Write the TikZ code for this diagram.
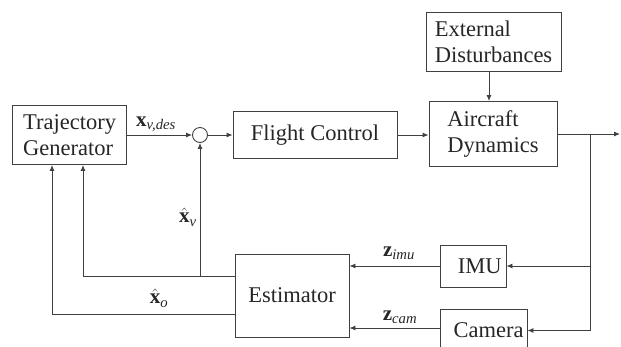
\documentclass[tikz,border=0pt]{standalone}
\usepackage{amsmath}
\usepackage{fontspec}
\setmainfont{LiberationSerif}[Extension=.ttf, UprightFont=*-Regular, BoldFont=*-Bold, ItalicFont=*-Italic, BoldItalicFont=*-BoldItalic]
\usetikzlibrary{arrows.meta}
\begin{document}
\begin{tikzpicture}[x=1pt,y=-1pt,
  blk/.style={draw=black!75, line width=0.9pt, inner sep=0pt, align=left,
    font=\fontsize{22.5}{26}\selectfont, text=black!85},
  arr/.style={draw=black!75, line width=0.9pt, -{Latex[length=6pt,width=5pt]}},
  ln/.style={draw=black!75, line width=0.9pt},
  lbl/.style={font=\fontsize{21}{24}\selectfont, text=black!85, inner sep=0pt}]
\useasboundingbox (0,0) rectangle (621,346);

\node[blk, minimum width=114pt, minimum height=59pt] (TG) at (69.7,135) {Trajectory\\Generator};
\node[draw=black!75, line width=0.9pt, circle, minimum size=15pt, inner sep=0pt] (sum) at (200,135) {};
\node[blk, minimum width=164pt, minimum height=47pt] (FC) at (315,135) {Flight Control};
\node[blk, minimum width=135pt, minimum height=59pt] (ED) at (493.5,41.5) {External\\Disturbances};
\node[blk, minimum width=128pt, minimum height=65pt] (AD) at (493,134) {Aircraft\\Dynamics};
\node[blk, minimum width=114pt, minimum height=83pt] (Est) at (292,295.5) {Estimator};
\node[blk, minimum width=66pt, minimum height=42pt, text width=57pt, align=right] (IMU) at (473,266) {IMU};
\node[blk, minimum width=87pt, minimum height=43pt, text width=80pt, align=right] (Cam) at (483.5,330.5) {Camera};

\coordinate (out) at (620,134);
\coordinate (br) at (590,134);
\coordinate (c1) at (83,276);
\coordinate (c2) at (52,314);
\coordinate (j1) at (200,276);

\draw[arr] (TG.east |- sum) -- (sum.west);
\draw[arr] (sum.east) -- (FC.west |- sum);
\draw[arr] (FC.east) -- (AD.west |- FC.east);
\draw[arr] (ED.south -| 489,0) -- (AD.north -| 489,0);
\draw[arr] (AD.east) -- (out);
\draw[arr] (br) |- (Cam.east);
\draw[arr] (br |- IMU.east) -- (IMU.east);
\draw[arr] (IMU.west) -- (IMU.west -| Est.east);
\draw[arr] (Cam.west |- 0,328) -- (Est.east |- 0,328);
\draw[arr] (Est.west |- c1) -- (c1) -- (c1 |- TG.south);
\draw[arr] (j1) -- (sum.south);
\draw[arr] (Est.west |- c2) -- (c2) -- (c2 |- TG.south);

\node[lbl] (l1) at (156,124) {\textbf{x}$_{\textit{v,des}}$};
\node[lbl] (l2) at (188,217) {$\hat{\textbf{x}}_{\textit{v}}$};
\node[lbl] (l3) at (159,298) {$\hat{\textbf{x}}_{\textit{o}}$};
\node[lbl] (l4) at (399,253) {\textbf{z}$_{\textit{imu}}$};
\node[lbl] (l5) at (400,317) {\textbf{z}$_{\textit{cam}}$};
\end{tikzpicture}
\end{document}
